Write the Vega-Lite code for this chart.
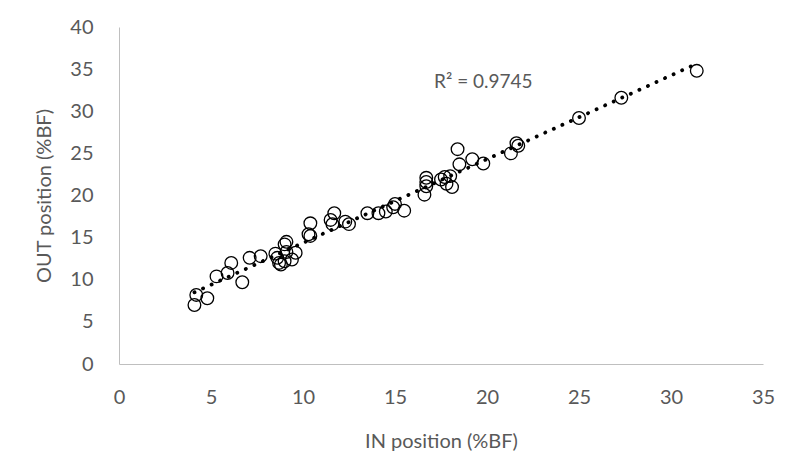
{
  "$schema": "https://vega.github.io/schema/vega-lite/v6.json",
  "autosize": "none",
  "width": 644,
  "height": 337,
  "padding": {"left": 119, "top": 27, "right": 37, "bottom": 87},
  "background": "white",
  "data": {
    "values": [
      {"in": 4.1, "out": 7.0}, {"in": 4.2, "out": 8.2}, {"in": 4.8, "out": 7.8},
      {"in": 5.3, "out": 10.4}, {"in": 5.9, "out": 10.8}, {"in": 6.1, "out": 12.0},
      {"in": 6.7, "out": 9.7}, {"in": 7.1, "out": 12.6}, {"in": 7.7, "out": 12.8},
      {"in": 8.5, "out": 13.1}, {"in": 8.7, "out": 12.0}, {"in": 8.8, "out": 11.8},
      {"in": 9.0, "out": 12.2}, {"in": 9.0, "out": 14.2}, {"in": 9.1, "out": 14.5},
      {"in": 9.1, "out": 13.3}, {"in": 9.4, "out": 12.4}, {"in": 9.6, "out": 13.2},
      {"in": 8.6, "out": 12.6}, {"in": 10.3, "out": 15.4}, {"in": 10.4, "out": 15.2},
      {"in": 10.4, "out": 16.7}, {"in": 11.5, "out": 17.1}, {"in": 11.6, "out": 16.6},
      {"in": 11.7, "out": 17.9}, {"in": 12.3, "out": 16.9}, {"in": 12.5, "out": 16.6},
      {"in": 13.5, "out": 17.9}, {"in": 14.1, "out": 17.9}, {"in": 14.5, "out": 18.1},
      {"in": 14.9, "out": 18.6}, {"in": 15.0, "out": 19.0}, {"in": 15.5, "out": 18.2},
      {"in": 16.6, "out": 20.1}, {"in": 16.7, "out": 21.1}, {"in": 16.7, "out": 21.6},
      {"in": 16.7, "out": 22.1}, {"in": 17.5, "out": 21.9}, {"in": 17.7, "out": 22.2},
      {"in": 17.8, "out": 21.4}, {"in": 18.1, "out": 21.0}, {"in": 18.0, "out": 22.3},
      {"in": 18.4, "out": 25.5}, {"in": 18.5, "out": 23.7}, {"in": 19.2, "out": 24.3},
      {"in": 19.8, "out": 23.8}, {"in": 21.3, "out": 25.0}, {"in": 21.6, "out": 26.2},
      {"in": 21.7, "out": 25.9}, {"in": 25.0, "out": 29.2}, {"in": 27.3, "out": 31.6},
      {"in": 31.4, "out": 34.8}
    ]
  },
  "encoding": {
    "x": {
      "field": "in",
      "type": "quantitative",
      "scale": {"domain": [0, 35], "nice": false},
      "axis": {
        "title": "IN position (%BF)",
        "values": [0, 5, 10, 15, 20, 25, 30, 35],
        "labelFlush": false,
        "labelPadding": 23,
        "titlePadding": 24
      }
    },
    "y": {
      "field": "out",
      "type": "quantitative",
      "scale": {"domain": [0, 40], "nice": false},
      "axis": {
        "title": "OUT position (%BF)",
        "values": [0, 5, 10, 15, 20, 25, 30, 35, 40],
        "labelFlush": false,
        "labelPadding": 26,
        "titlePadding": 15
      }
    }
  },
  "layer": [
    {
      "mark": {"type": "point", "shape": "circle", "filled": false, "size": 160, "stroke": "black", "strokeWidth": 1.3, "opacity": 1}
    },
    {
      "transform": [{"regression": "out", "on": "in"}],
      "mark": {"type": "line", "color": "black", "strokeWidth": 3.8, "strokeCap": "round", "strokeDash": [0.1, 9.3]}
    },
    {
      "data": {"values": [{"label": "R² = 0.9745", "px": 19.8, "py": 33.5}]},
      "mark": {"type": "text", "font": "Lato", "fontSize": 19, "color": "#595959", "align": "center", "baseline": "middle"},
      "encoding": {
        "x": {"field": "px", "type": "quantitative"},
        "y": {"field": "py", "type": "quantitative"},
        "text": {"field": "label"}
      }
    }
  ],
  "config": {
    "view": {"stroke": null},
    "axis": {
      "grid": false,
      "ticks": false,
      "domainColor": "#bfbfbf",
      "domainWidth": 1,
      "labelColor": "#595959",
      "titleColor": "#595959",
      "labelFont": "Lato",
      "titleFont": "Lato",
      "labelFontSize": 20,
      "titleFontSize": 20,
      "titleFontWeight": "normal"
    }
  }
}
